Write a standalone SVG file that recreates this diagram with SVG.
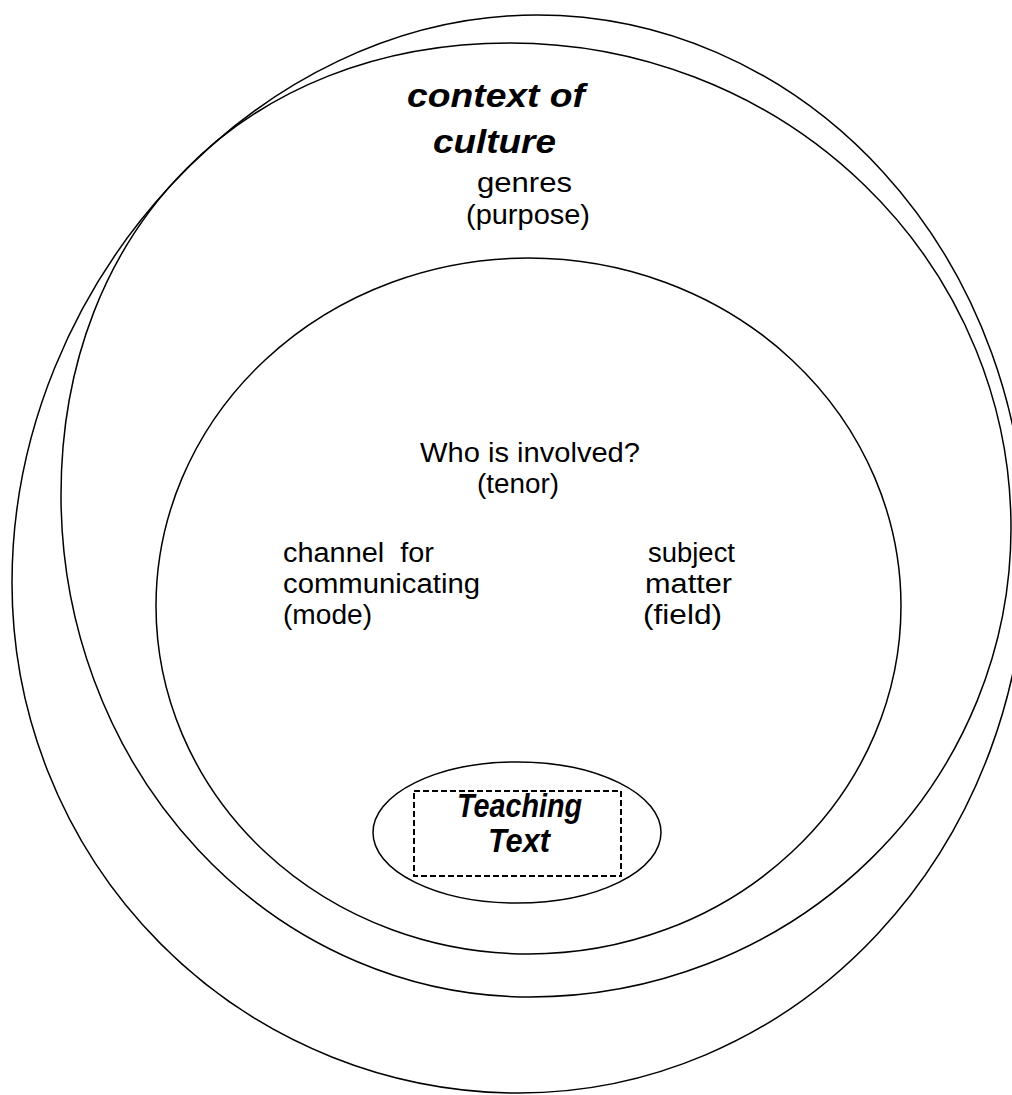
<svg xmlns="http://www.w3.org/2000/svg" width="1012" height="1095" viewBox="0 0 1012 1095">
<style>
.ring{fill:none;stroke:#000;stroke-width:1.5}
.t{font-family:"Liberation Sans",Arial,sans-serif;font-size:27px;fill:#000}
.b{font-family:"Liberation Sans",Arial,sans-serif;font-size:34px;font-weight:bold;font-style:italic;fill:#000}
</style>
<rect width="1012" height="1095" fill="#fff"/>
<g id="context-of-culture-outer">
<path class="ring" d="M537 15 C258.75 15 12 281.96 12 583 A507 510 0 0 0 519 1093 A507 543 0 0 0 1026 550 A489 535 0 0 0 537 15 Z"/>
</g>
<g id="context-of-culture">
<path class="ring" d="M510 43 C245.1 43 61 228.3 61 495 A469 502 0 0 0 530 997 A481 469 0 0 0 1011 528 A501 485 0 0 0 510 43 Z"/>
<text class="b" x="407" y="107" textLength="178" lengthAdjust="spacingAndGlyphs">context of</text>
<text class="b" x="433" y="153" textLength="123" lengthAdjust="spacingAndGlyphs">culture</text>
<text class="t" x="477" y="192" textLength="95" lengthAdjust="spacingAndGlyphs">genres</text>
<text class="t" x="466" y="224" textLength="124" lengthAdjust="spacingAndGlyphs">(purpose)</text>
</g>
<g id="context-of-situation">
<ellipse class="ring" cx="528.5" cy="606" rx="372.5" ry="348"/>
<text class="t" x="420" y="462" textLength="220" lengthAdjust="spacingAndGlyphs">Who is involved?</text>
<text class="t" x="477" y="493" textLength="82" lengthAdjust="spacingAndGlyphs">(tenor)</text>
<text class="t" x="283" y="562" textLength="151" lengthAdjust="spacingAndGlyphs" xml:space="preserve">channel  for</text>
<text class="t" x="283" y="593" textLength="197" lengthAdjust="spacingAndGlyphs">communicating</text>
<text class="t" x="283" y="624" textLength="89" lengthAdjust="spacingAndGlyphs">(mode)</text>
<text class="t" x="648" y="562" textLength="87" lengthAdjust="spacingAndGlyphs">subject</text>
<text class="t" x="645" y="593" textLength="87" lengthAdjust="spacingAndGlyphs">matter</text>
<text class="t" x="643" y="624" textLength="79" lengthAdjust="spacingAndGlyphs">(field)</text>
</g>
<g id="teaching-text">
<ellipse class="ring" cx="517" cy="832.5" rx="144" ry="70.5"/>
<rect x="414" y="791" width="207" height="85" fill="none" stroke="#000" stroke-width="2" stroke-dasharray="6 3"/>
<text class="b" x="457" y="817" textLength="125" lengthAdjust="spacingAndGlyphs">Teaching</text>
<text class="b" x="488" y="852" textLength="62" lengthAdjust="spacingAndGlyphs">Text</text>
</g>
<g id="connectors"/>
</svg>
